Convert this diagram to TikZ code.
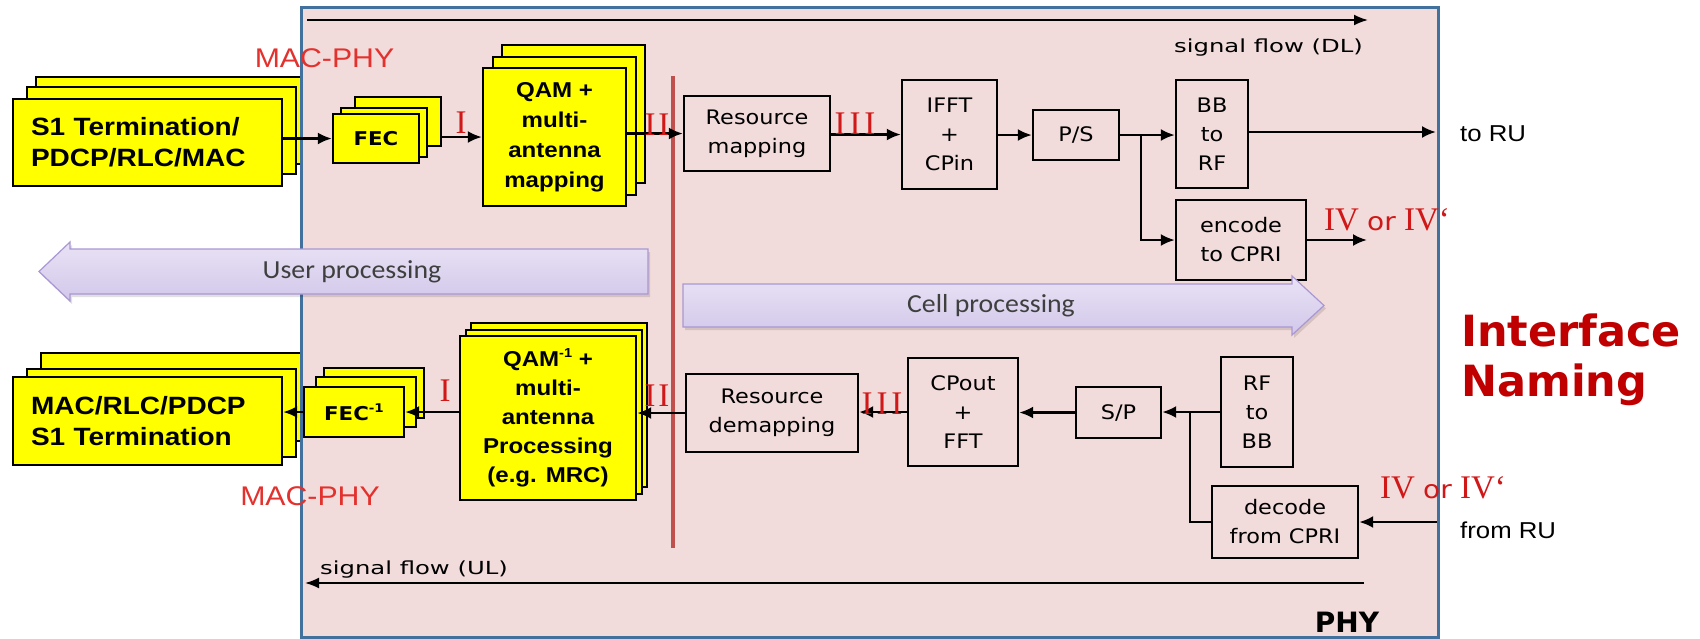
\documentclass[tikz,border=0pt]{standalone}
\usepackage{fontspec}
\usetikzlibrary{arrows.meta}
\setmainfont{Liberation Sans}
\newfontfamily\lsans{Liberation Sans}[FakeStretch=1.12]
\newfontfamily\vsans{DejaVu Sans}[FakeStretch=1.12]
\newfontfamily\flowfont{DejaVu Sans}[FakeStretch=1.35]
\newfontfamily\tserif{Liberation Serif}
\newfontfamily\csans{Carlito}[FakeStretch=1.07]
\newfontfamily\hsans{DejaVu Sans}

\definecolor{phyfill}{HTML}{F2DCDB}
\definecolor{phyline}{HTML}{41719C}
\definecolor{cutred}{HTML}{C0504D}
\definecolor{numred}{HTML}{D01818}
\definecolor{macred}{HTML}{E3312D}
\definecolor{namered}{HTML}{C00000}
\definecolor{boxyellow}{HTML}{FFFF00}
\definecolor{lavtop}{HTML}{E9E3F5}
\definecolor{lavbot}{HTML}{D2C7EA}
\definecolor{lavline}{HTML}{A997D3}
\definecolor{proctext}{HTML}{3F3F3F}

\newcommand\stackfont{\lsans\bfseries\fontsize{25}{31}\selectfont}
\newcommand\qamfont{\lsans\bfseries\fontsize{21.5}{30}\selectfont}
\newcommand\qamifont{\lsans\bfseries\fontsize{21.5}{29}\selectfont}
\newcommand\fecfont{\vsans\bfseries\fontsize{19}{20}\selectfont}
\newcommand\boxfont{\vsans\fontsize{20}{29}\selectfont}
\newcommand\flowlabel{\flowfont\fontsize{18}{18}\selectfont}
\newcommand\numfont{\tserif\fontsize{33}{33}\selectfont}
\newcommand\orfont{\vsans\fontsize{25}{25}\selectfont}
\newcommand\macfont{\lsans\fontsize{27}{27}\selectfont}
\newcommand\rufont{\lsans\fontsize{23}{23}\selectfont}
\newcommand\procfont{\csans\fontsize{26}{26}\selectfont}
\newcommand\minusone[1]{\raisebox{0.42em}{\fontsize{#1}{#1}\selectfont -1}}
\newcommand\ivlabel{IV {\orfont or} IV‘}

\begin{document}
\begin{tikzpicture}[x=1pt,y=-1pt,
  ybox/.style={draw=black,line width=2.4pt,fill=boxyellow,inner sep=0pt},
  pbox/.style={draw=black,line width=2.4pt,inner sep=0pt,align=center,font=\boxfont},
  conn/.style={line width=2.3pt,-{Latex[length=14pt,width=12pt]}},
  wire/.style={line width=2.3pt},
  flowarrow/.style={line width=1.9pt,-{Latex[length=14pt,width=11pt]}},
  numlabel/.style={text=numred,font=\numfont,inner sep=0pt,anchor=base},
  redtext/.style={text=macred,font=\macfont,inner sep=0pt,anchor=base},
  rulabel/.style={inner sep=0pt,anchor=base west,font=\rufont},
  blockarrow/.style={top color=lavtop,bottom color=lavbot,draw=lavline,line width=1.2pt},
  procnode/.style={inner sep=0pt,font=\procfont,text=proctext},
]
\useasboundingbox (0,0) rectangle (1700,638);

% PHY area
\node[fill=phyfill,minimum width=1136pt,minimum height=629pt,inner sep=0pt] (phy) at (870,322.5) {};

% ---- downlink chain ----
\node[ybox,minimum width=265pt,minimum height=87pt] (s1c) at (168.5,120.5) {};
\node[ybox,minimum width=269pt,minimum height=87pt] (s1b) at (161.5,130.5) {};
\node[ybox,minimum width=269pt,minimum height=87pt,inner xsep=18pt,text width=233pt,align=left,font=\stackfont] (s1) at (147.5,142.5) {S1 Termination/\\PDCP/RLC/MAC};

\node[ybox,minimum width=86pt,minimum height=49pt] (fecc) at (398,121.5) {};
\node[ybox,minimum width=86pt,minimum height=49pt] (fecb) at (384,132.5) {};
\node[ybox,minimum width=86pt,minimum height=49pt,font=\fecfont] (fec) at (376,138.5) {FEC};

\node[ybox,minimum width=143pt,minimum height=138pt] (qamc) at (573.5,114) {};
\node[ybox,minimum width=143pt,minimum height=138pt] (qamb) at (564.5,126) {};
\node[ybox,minimum width=143pt,minimum height=138pt,align=center,font=\qamfont] (qam) at (554.5,137) {QAM +\\multi-\\antenna\\mapping};

\node[pbox,minimum width=146pt,minimum height=75pt] (rm) at (757,133.5) {Resource\\mapping};
\node[pbox,minimum width=95pt,minimum height=109pt] (ifft) at (949.5,134.5) {IFFT\\+\\CPin};
\node[pbox,minimum width=86pt,minimum height=50pt] (ps) at (1076,135) {P/S};
\node[pbox,minimum width=72pt,minimum height=108pt] (bb) at (1212,134) {BB\\to\\RF};
\node[pbox,minimum width=130pt,minimum height=80pt] (enc) at (1241,240) {encode\\to CPRI};

% ---- uplink chain ----
\node[ybox,minimum width=260pt,minimum height=88pt] (macc) at (171,397) {};
\node[ybox,minimum width=269pt,minimum height=88pt] (macb) at (161.5,413) {};
\node[ybox,minimum width=269pt,minimum height=88pt,inner xsep=18pt,text width=233pt,align=left,font=\stackfont] (mac) at (147.5,421) {MAC/RLC/PDCP\\S1 Termination};

\node[ybox,minimum width=100pt,minimum height=50pt] (fecic) at (374,393) {};
\node[ybox,minimum width=100pt,minimum height=50pt] (fecib) at (366,402) {};
\node[ybox,minimum width=100pt,minimum height=50pt,font=\fecfont] (feci) at (354,412) {FEC\minusone{12}};

\node[ybox,minimum width=176pt,minimum height=164pt] (qamic) at (559,405) {};
\node[ybox,minimum width=176pt,minimum height=164pt] (qamib) at (554,412) {};
\node[ybox,minimum width=176pt,minimum height=164pt,align=center,font=\qamifont] (qami) at (548,418) {QAM\minusone{13} +\\multi-\\antenna\\Processing\\(e.g. MRC)};

\node[pbox,minimum width=172pt,minimum height=78pt] (rd) at (772,413) {Resource\\demapping};
\node[pbox,minimum width=110pt,minimum height=108pt] (cp) at (963,412) {CPout\\+\\FFT};
\node[pbox,minimum width=85pt,minimum height=51pt] (sp) at (1118.5,412.5) {S/P};
\node[pbox,minimum width=72pt,minimum height=110pt] (rfbb) at (1257,412) {RF\\to\\BB};
\node[pbox,minimum width=146pt,minimum height=72pt] (dec) at (1285,522) {decode\\from CPRI};

% PHY border
\draw[phyline,line width=3pt] (phy.south west) rectangle (phy.north east);

% user / cell split
\coordinate (cuttop) at (673,76);
\coordinate (cutbot) at (673,548);
\draw[cutred,line width=3.2pt] (cuttop) -- (cutbot);

% processing arrows
\fill[black,opacity=0.12] (650,252) -- (72,252) -- (72,245) -- (41,274.5) -- (72,304) -- (72,297) -- (650,297) -- cycle;
\path[blockarrow] (648,249) -- (70,249) -- (70,242) -- (39,271.5) -- (70,301) -- (70,294) -- (648,294) -- cycle;
\node[procnode] (userp) at (352,271.5) {User processing};
\fill[black,opacity=0.12] (685,287) -- (1294,287) -- (1294,279) -- (1326,308.5) -- (1294,338) -- (1294,330) -- (685,330) -- cycle;
\path[blockarrow] (683,284) -- (1292,284) -- (1292,276) -- (1324,305.5) -- (1292,335) -- (1292,327) -- (683,327) -- cycle;
\node[procnode] (cellp) at (991,306) {Cell processing};

% downlink connectors
\draw[conn] (fec.west -| s1.east) -- (fec.west);
\draw[conn] (qam.west -| fecc.east) -- (qam.west);
\draw[conn] (rm.west -| qam.east) -- (rm.west);
\draw[conn] (ifft.west -| rm.east) -- (ifft.west);
\draw[conn] (ps.west -| ifft.east) -- (ps.west);
\draw[conn] (ps.east) -- (ps.east -| bb.west);
\coordinate (j1) at (1141,135);
\draw[conn] (j1) |- (enc.west);
\coordinate (toru) at (1436,132);
\draw[conn] (bb.east |- toru) -- (toru);
\coordinate (encout) at (1367,240);
\draw[conn] (enc.east) -- (encout);

% uplink connectors
\draw[conn] (feci.east -| qami.west) -- (feci.east);
\draw[conn] (feci.west) -- (feci.west -| mac.east);
\draw[conn] (rd.west) -- (rd.west -| qami.east);
\draw[conn] (cp.west) -- (cp.west -| rd.east);
\draw[conn] (sp.west) -- (sp.west -| cp.east);
\draw[conn] (rfbb.west) -- (rfbb.west -| sp.east);
\coordinate (j2) at (1190,412);
\draw[wire] (dec.west) -| (j2);
\coordinate (fromru) at (1437,522);
\draw[conn] (fromru) -- (dec.east);

% signal flow directions
\coordinate (dls) at (307,20);
\coordinate (dle) at (1368,20);
\draw[flowarrow] (dls) -- (dle);
\node[inner sep=0pt,anchor=base east,font=\flowlabel] (dllabel) at (1363,52) {signal flow (DL)};
\coordinate (uls) at (1364,583);
\coordinate (ule) at (305,583);
\draw[flowarrow] (uls) -- (ule);
\node[inner sep=0pt,anchor=base west,font=\flowlabel] (ullabel) at (320,574) {signal flow (UL)};

% interface names
\node[redtext] (macphytop) at (324.5,67) {MAC-PHY};
\node[redtext] (macphybot) at (310,505) {MAC-PHY};
\node[numlabel] (ifI) at (461,133) {I};
\node[numlabel] (ifII) at (657,135) {I\kern3pt I};
\node[numlabel] (ifIII) at (855,134) {I\kern4pt I\kern4pt I};
\node[numlabel] (ifIb) at (445,401) {I};
\node[numlabel] (ifIIb) at (657,406) {I\kern3pt I};
\node[numlabel] (ifIIIb) at (882,414) {I\kern4pt I\kern4pt I};
\node[numlabel] (ifIV) at (1387,230) {\ivlabel};
\node[numlabel] (ifIVb) at (1443,498) {\ivlabel};

\node[rulabel] (torulabel) at (1460,141) {to RU};
\node[rulabel] (fromrulabel) at (1460,538) {from RU};

\node[inner sep=0pt,anchor=north west,align=left,text=namered,font=\hsans\bfseries\fontsize{43}{50}\selectfont] (naming) at (1461,314) {Interface\\Naming};

\node[inner sep=0pt,anchor=base,font=\hsans\bfseries\fontsize{28}{28}\selectfont] (phylabel) at (1347,632) {PHY};
\end{tikzpicture}
\end{document}
